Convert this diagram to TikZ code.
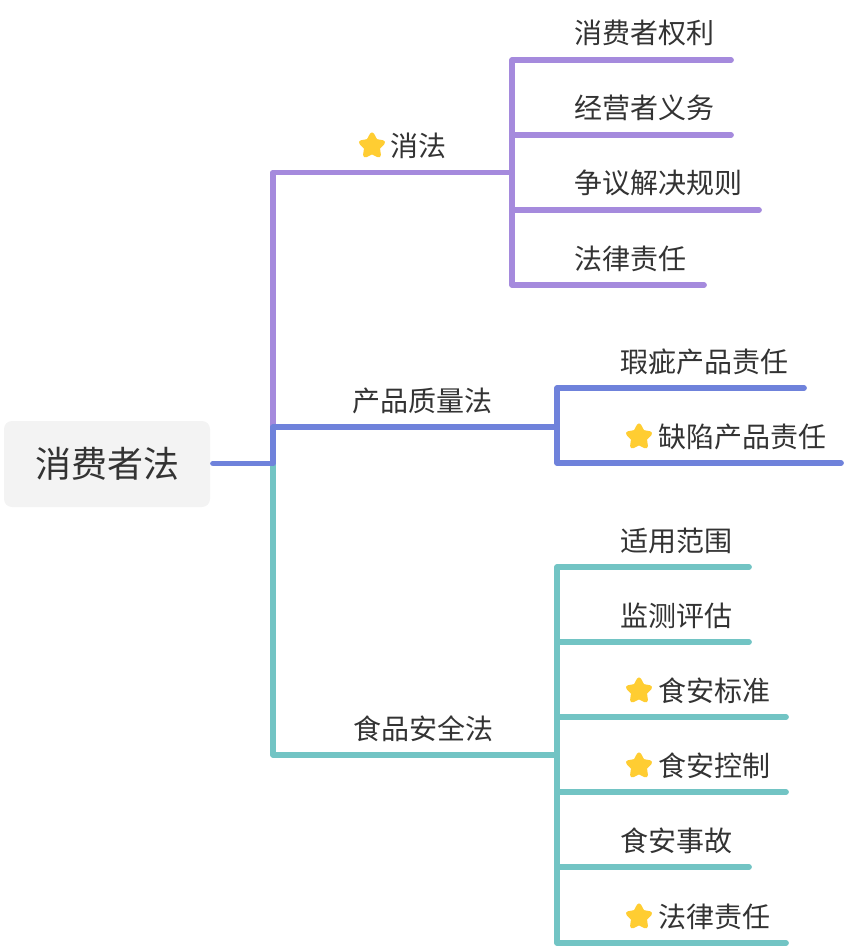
\documentclass[tikz,border=0pt]{standalone}
\usepackage{fontspec}
\setmainfont{Noto Sans CJK SC}
\usetikzlibrary{shapes.geometric}
\definecolor{purpleline}{RGB}{165,138,221}
\definecolor{blueline}{RGB}{111,130,219}
\definecolor{tealline}{RGB}{114,196,196}
\definecolor{rootfill}{RGB}{243,243,243}
\definecolor{textgray}{RGB}{51,51,51}
\definecolor{starfill}{RGB}{255,205,50}
\tikzset{
  rootbox/.style={fill=rootfill,rounded corners=6pt,minimum width=154.5pt,minimum height=64.5pt,inner sep=0pt,text=textgray,font=\fontsize{27}{27}\selectfont},
  topic/.style={anchor=west,inner sep=0pt,xshift=-0.75pt,yshift=-0.75pt,text=textgray,font=\fontsize{21}{21}\selectfont},
  favstar/.style={star,star points=5,star point ratio=1.9,fill=starfill,draw=starfill,line width=3.4pt,line join=round,inner sep=0pt,minimum size=17pt},
  branch/.style={line width=4.3pt,line cap=round,line join=round}
}
\begin{document}
\begin{tikzpicture}[x=0.75pt,y=0.75pt,yscale=-1,xscale=1]
    \useasboundingbox (0,0) rectangle (846,948);

    % Root
    \node [rootbox] (root) at (107,464) {消费者法};
    \coordinate (rootstart) at (213,463.5);
    \coordinate (rootfork) at (273,463.5);

    % Text Node
    \node [topic] (xiaofa) at (391.5,145) {消法};
    \node [favstar] (xiaofastar) at (372,146) {};
    \node [topic] (chanpin) at (353,400) {产品质量法};
    \node [topic] (shipin) at (354,728) {食品安全法};

    \node [topic] (quanli) at (575,32) {消费者权利};
    \node [topic] (yiwu) at (575,107) {经营者义务};
    \node [topic] (zhengyi) at (575,182) {争议解决规则};
    \node [topic] (zeren) at (575,258) {法律责任};

    \node [topic] (xiaci) at (621,361) {瑕疵产品责任};
    \node [topic] (quexian) at (659,436) {缺陷产品责任};
    \node [favstar] (quexianstar) at (639,437) {};

    \node [topic] (shiyong) at (621,539.5) {适用范围};
    \node [topic] (jiance) at (621,614.5) {监测评估};
    \node [topic] (biaozhun) at (659,690) {食安标准};
    \node [favstar] (biaozhunstar) at (639,691) {};
    \node [topic] (kongzhi) at (659,765) {食安控制};
    \node [favstar] (kongzhistar) at (639,766) {};
    \node [topic] (shigu) at (621,839.5) {食安事故};
    \node [topic] (shizeren) at (659,916) {法律责任};
    \node [favstar] (shizerenstar) at (639,917) {};

    % Purple branch
    \coordinate (xiaofafork) at (512,172.5);
    \coordinate (quanliend) at (731,60);
    \coordinate (yiwuend) at (731,135);
    \coordinate (zhengyiend) at (759,210);
    \coordinate (zerenend) at (704,285);
    \draw [branch,purpleline] (rootfork) |- (xiaofafork);
    \draw [branch,purpleline] (xiaofafork) |- (quanliend);
    \draw [branch,purpleline] (xiaofafork) |- (yiwuend);
    \draw [branch,purpleline] (xiaofafork) |- (zhengyiend);
    \draw [branch,purpleline] (xiaofafork) |- (zerenend);

    % Teal branch
    \coordinate (shipinfork) at (557,755);
    \coordinate (shiyongend) at (749,567);
    \coordinate (jianceend) at (749,642);
    \coordinate (biaozhunend) at (786,717);
    \coordinate (kongzhiend) at (786,792);
    \coordinate (shiguend) at (749,867);
    \coordinate (shizerenend) at (786,943);
    \draw [branch,tealline] (rootfork) |- (shipinfork);
    \draw [branch,tealline] (shipinfork) |- (shiyongend);
    \draw [branch,tealline] (shipinfork) |- (jianceend);
    \draw [branch,tealline] (shipinfork) |- (biaozhunend);
    \draw [branch,tealline] (shipinfork) |- (kongzhiend);
    \draw [branch,tealline] (shipinfork) |- (shiguend);
    \draw [branch,tealline] (shipinfork) |- (shizerenend);

    % Blue branch
    \coordinate (chanpinfork) at (557,427);
    \coordinate (xiaciend) at (804,388);
    \coordinate (quexianend) at (841,463);
    \draw [branch,blueline] (rootstart) -- (rootfork) |- (chanpinfork);
    \draw [branch,blueline] (chanpinfork) |- (xiaciend);
    \draw [branch,blueline] (chanpinfork) |- (quexianend);

\end{tikzpicture}
\end{document}
